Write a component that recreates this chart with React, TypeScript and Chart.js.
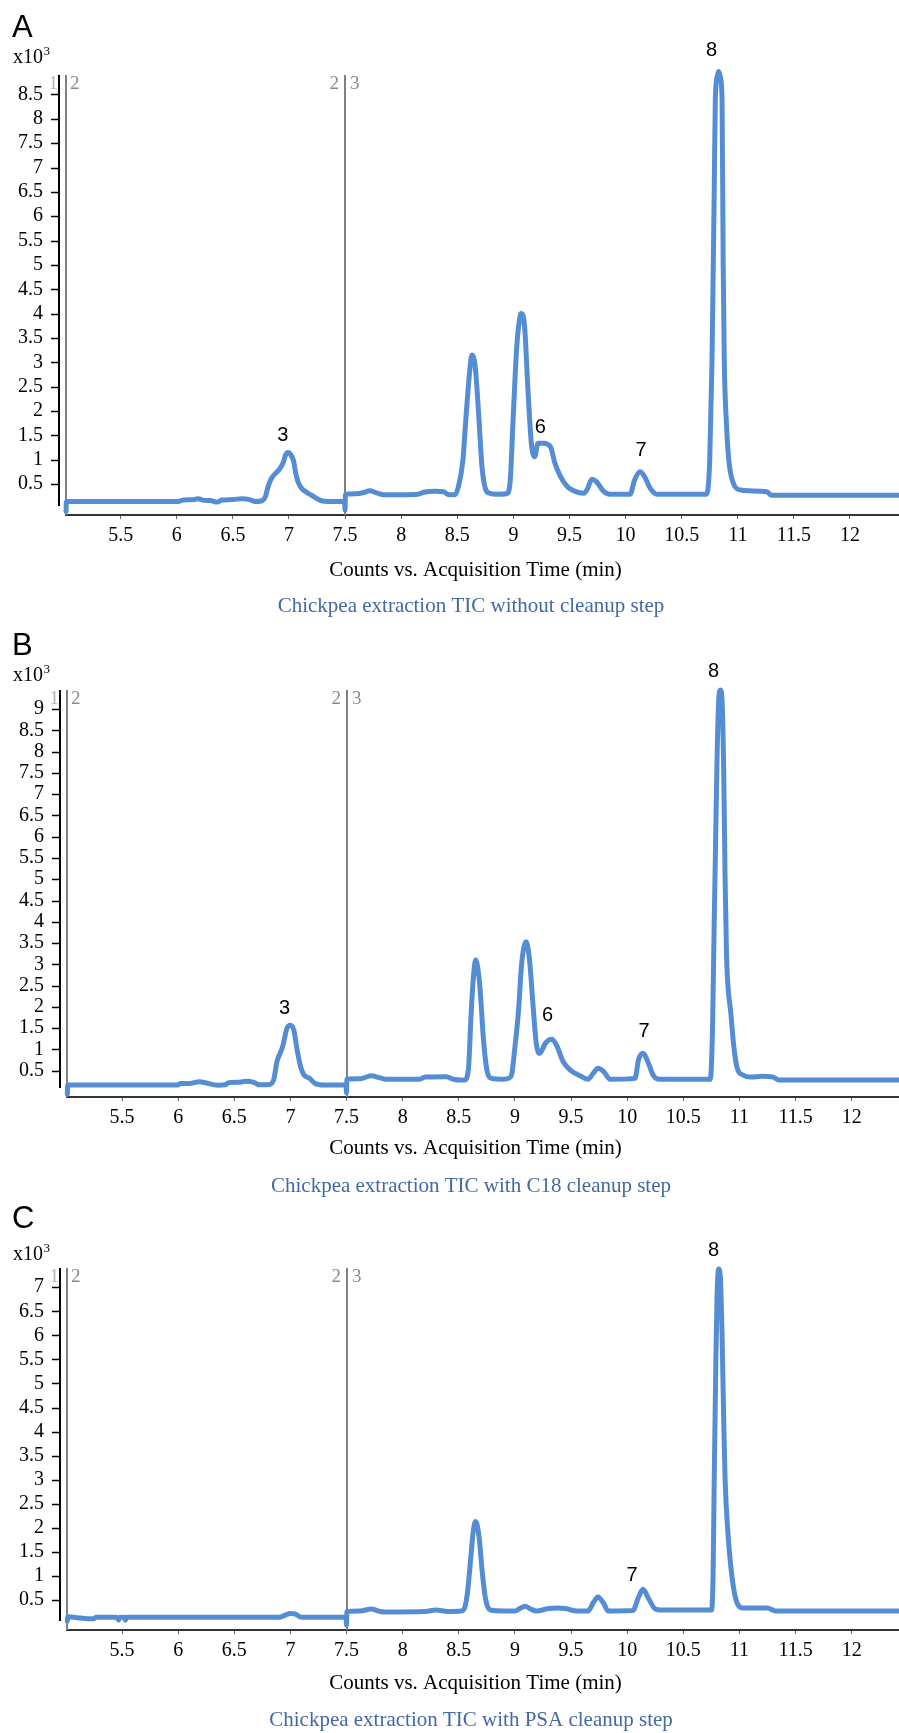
import React, { useEffect, useRef } from 'react';
import { Chart, registerables } from 'chart.js';

Chart.register(...registerables);

// ---------- data ----------
const xTicks = [5.5, 6, 6.5, 7, 7.5, 8, 8.5, 9, 9.5, 10, 10.5, 11, 11.5, 12];
const yTicksA = [0.5, 1, 1.5, 2, 2.5, 3, 3.5, 4, 4.5, 5, 5.5, 6, 6.5, 7, 7.5, 8, 8.5];
const yTicksB = [0.5, 1, 1.5, 2, 2.5, 3, 3.5, 4, 4.5, 5, 5.5, 6, 6.5, 7, 7.5, 8, 8.5, 9];
const yTicksC = [0.5, 1, 1.5, 2, 2.5, 3, 3.5, 4, 4.5, 5, 5.5, 6, 6.5, 7];

const segmentBreaks = [5.01, 7.5];

// Panel A: without cleanup (counts x10^3 vs time, min)
const timeA = [
  5.013, 5.016, 5.5, 6.0, 6.06, 6.15, 6.19, 6.23, 6.3, 6.36, 6.4, 6.5, 6.58, 6.65, 6.7, 6.76, 6.79, 6.81, 6.84,
  6.88, 6.92, 6.95, 6.97, 6.99, 7.01, 7.04, 7.06, 7.08, 7.11, 7.15, 7.2, 7.25, 7.3, 7.4, 7.495, 7.5,
  7.503, 7.6, 7.66, 7.72, 7.78, 7.85, 8.0, 8.15, 8.2, 8.3, 8.38, 8.42, 8.48, 8.51, 8.55, 8.58, 8.61, 8.63,
  8.66, 8.69, 8.72, 8.75, 8.79, 8.85, 8.94, 8.97, 9.0, 9.03, 9.06, 9.07, 9.1, 9.13, 9.16, 9.19, 9.22, 9.27,
  9.33, 9.37, 9.42, 9.48, 9.54, 9.63, 9.66, 9.7, 9.74, 9.8, 9.86, 10.04, 10.08, 10.13, 10.17, 10.22, 10.28,
  10.72, 10.75, 10.77, 10.78, 10.79, 10.8, 10.82, 10.83, 10.845, 10.86, 10.87, 10.88, 10.9, 10.92, 10.96,
  11.02, 11.1, 11.26, 11.3, 12.437,
];
const countsA = [
  -0.06, 0.14, 0.14, 0.14, 0.17, 0.18, 0.2, 0.17, 0.16, 0.13, 0.17, 0.18, 0.2, 0.18, 0.14, 0.16, 0.24, 0.42, 0.6,
  0.72, 0.82, 0.95, 1.1, 1.15, 1.12, 0.98, 0.72, 0.55, 0.42, 0.34, 0.27, 0.2, 0.15, 0.14, 0.14, -0.04,
  0.29, 0.3, 0.32, 0.36, 0.32, 0.28, 0.28, 0.29, 0.33, 0.35, 0.34, 0.28, 0.28, 0.45, 0.99, 1.95, 2.8, 3.15,
  2.91, 1.95, 0.86, 0.41, 0.31, 0.29, 0.3, 0.52, 1.95, 3.32, 3.95, 4.0, 3.73, 2.43, 1.34, 1.06, 1.34, 1.34,
  1.27, 0.93, 0.65, 0.45, 0.36, 0.31, 0.4, 0.6, 0.55, 0.36, 0.29, 0.29, 0.58, 0.75, 0.65, 0.41, 0.29,
  0.29, 0.99, 3.0, 4.7, 6.5, 8.4, 8.9, 8.97, 8.85, 8.39, 5.0, 3.0, 1.7, 0.99, 0.52,
  0.38, 0.36, 0.34, 0.27, 0.27,
];
const peakNamesA = ['3', '6', '7', '8'];
const peakTimesA = [6.946, 9.241, 10.137, 10.766];
const peakLabelCountsA = [1.49, 1.67, 1.18, 9.41];

// Panel B: C18 cleanup
const timeB = [
  5.013, 5.016, 6.0, 6.02, 6.1, 6.19, 6.25, 6.35, 6.42, 6.45, 6.55, 6.6, 6.68, 6.72, 6.8, 6.85, 6.88, 6.93,
  6.97, 7.0, 7.03, 7.06, 7.09, 7.12, 7.17, 7.22, 7.3, 7.495, 7.5,
  7.503, 7.62, 7.72, 7.8, 7.85, 8.15, 8.2, 8.39, 8.45, 8.55, 8.585, 8.61, 8.63, 8.65, 8.67, 8.69, 8.72, 8.75,
  8.79, 8.9, 8.95, 8.97, 9.0, 9.03, 9.06, 9.1, 9.13, 9.16, 9.19, 9.22, 9.27, 9.3, 9.33, 9.37, 9.43, 9.49,
  9.58, 9.65, 9.7, 9.74, 9.79, 9.85, 10.07, 10.1, 10.14, 10.19, 10.23, 10.28, 10.74, 10.76, 10.775, 10.785,
  10.8, 10.815, 10.83, 10.845, 10.86, 10.872, 10.885, 10.9, 10.92, 10.95, 10.98, 11.03, 11.1, 11.2, 11.3,
  11.35, 12.421,
];
const countsB = [
  -0.05, 0.165, 0.165, 0.2, 0.2, 0.24, 0.21, 0.16, 0.17, 0.22, 0.23, 0.25, 0.22, 0.17, 0.17, 0.28, 0.71, 1.06,
  1.5, 1.57, 1.46, 0.99, 0.6, 0.4, 0.32, 0.2, 0.165, 0.165, -0.02,
  0.3, 0.31, 0.38, 0.33, 0.3, 0.3, 0.35, 0.36, 0.3, 0.28, 0.52, 1.85, 2.7, 3.1, 2.9, 2.4, 1.22, 0.52,
  0.32, 0.3, 0.33, 0.4, 1.06, 1.85, 3.02, 3.53, 3.1, 2.08, 1.14, 0.91, 1.14, 1.22, 1.24, 1.1, 0.71, 0.52,
  0.38, 0.3, 0.45, 0.56, 0.48, 0.3, 0.32, 0.75, 0.91, 0.67, 0.4, 0.3, 0.3, 1.5, 4.0, 5.5,
  7.8, 9.2, 9.45, 9.2, 7.5, 5.0, 3.2, 2.4, 1.93, 1.06, 0.56, 0.4, 0.35, 0.37, 0.35,
  0.28, 0.28,
];
const peakNamesB = ['3', '6', '7', '8'];
const peakTimesB = [6.948, 9.29, 10.15, 10.77];
const peakLabelCountsB = [1.97, 1.79, 1.43, 9.88];

// Panel C: PSA cleanup
const timeC = [
  5.013, 5.016, 5.1, 5.2, 5.25, 5.27, 5.45, 5.47, 5.48, 5.52, 5.53, 5.54, 6.0, 6.9, 6.95, 7.0, 7.04, 7.1,
  7.495, 7.5,
  7.503, 7.62, 7.72, 7.8, 7.85, 8.2, 8.3, 8.4, 8.52, 8.555, 8.58, 8.61, 8.63, 8.65, 8.68, 8.71, 8.74, 8.78,
  8.9, 9.0, 9.05, 9.09, 9.14, 9.19, 9.3, 9.38, 9.45, 9.55, 9.65, 9.7, 9.74, 9.79, 9.83, 10.05, 10.1, 10.14,
  10.19, 10.25, 10.3, 10.75, 10.765, 10.775, 10.79, 10.8, 10.815, 10.83, 10.845, 10.86, 10.872, 10.9, 10.92,
  10.95, 10.98, 11.03, 11.15, 11.25, 11.32, 12.421,
];
const countsC = [
  0.06, 0.15, 0.13, 0.11, 0.11, 0.14, 0.14, 0.08, 0.14, 0.14, 0.08, 0.14, 0.14, 0.14, 0.18, 0.22, 0.21, 0.14,
  0.14, -0.02,
  0.26, 0.27, 0.31, 0.26, 0.25, 0.26, 0.29, 0.26, 0.27, 0.36, 0.71, 1.47, 1.95, 2.13, 1.82, 1.05, 0.5, 0.29,
  0.27, 0.27, 0.33, 0.37, 0.31, 0.27, 0.32, 0.33, 0.32, 0.27, 0.27, 0.45, 0.56, 0.43, 0.27, 0.28, 0.55, 0.72,
  0.53, 0.31, 0.29, 0.29, 1.0, 3.0, 5.5, 6.8, 7.38, 7.2, 6.0, 4.2, 3.0, 1.8, 1.26,
  0.71, 0.43, 0.33, 0.33, 0.33, 0.27, 0.27,
];
const peakNamesC = ['7', '8'];
const peakTimesC = [10.043, 10.77];
const peakLabelCountsC = [1.0, 7.755];

// ---------- layout / style ----------
const SERIF = "'Liberation Serif', 'Times New Roman', serif";
const SANS = "'Liberation Sans', Arial, sans-serif";
const TRACE = '#548DD4';
const CAPTION_COLOR = '#4269a4';

type PanelCfg = {
  top: number; height: number; chartTop: number; chartBottom: number; chartLeft: number; yAxisX: number;
  xMin: number; xMax: number; yMin: number; yMax: number; yTicks: number[];
  times: number[]; counts: number[]; peakNames: string[]; peakTimes: number[]; peakCounts: number[];
  letter: string; letterBaseline: number; x10Baseline: number; titleY: number; captionY: number; caption: string;
};

const panels: PanelCfg[] = [
  {
    top: 0, height: 625, chartTop: 75, chartBottom: 515, chartLeft: 66, yAxisX: 59,
    xMin: 5.0125, xMax: 12.437, yMin: -0.136, yMax: 8.9, yTicks: yTicksA,
    times: timeA, counts: countsA, peakNames: peakNamesA, peakTimes: peakTimesA, peakCounts: peakLabelCountsA,
    letter: 'A', letterBaseline: 36.5, x10Baseline: 63.3, titleY: 570, captionY: 606.5,
    caption: 'Chickpea extraction TIC without cleanup step',
  },
  {
    top: 625, height: 575, chartTop: 690, chartBottom: 1097, chartLeft: 67, yAxisX: 60,
    xMin: 5.01, xMax: 12.421, yMin: -0.118, yMax: 9.448, yTicks: yTicksB,
    times: timeB, counts: countsB, peakNames: peakNamesB, peakTimes: peakTimesB, peakCounts: peakLabelCountsB,
    letter: 'B', letterBaseline: 655, x10Baseline: 680.7, titleY: 1148, captionY: 1186,
    caption: 'Chickpea extraction TIC with C18 cleanup step',
  },
  {
    top: 1200, height: 533, chartTop: 1268, chartBottom: 1630, chartLeft: 67, yAxisX: 60,
    xMin: 5.01, xMax: 12.421, yMin: -0.125, yMax: 7.40, yTicks: yTicksC,
    times: timeC, counts: countsC, peakNames: peakNamesC, peakTimes: peakTimesC, peakCounts: peakLabelCountsC,
    letter: 'C', letterBaseline: 1228, x10Baseline: 1260, titleY: 1683, captionY: 1720,
    caption: 'Chickpea extraction TIC with PSA cleanup step',
  },
];

function makeDecor(p: PanelCfg) {
  const T = p.top;
  return {
    id: 'decor' + p.letter,
    beforeDatasetsDraw(chart: any) {
      const { ctx, chartArea, scales } = chart;
      ctx.save();
      ctx.strokeStyle = '#808080';
      ctx.lineWidth = 2;
      segmentBreaks.forEach((b, i) => {
        const px = i === 0 ? chartArea.left : Math.round(scales.x.getPixelForValue(b));
        ctx.beginPath();
        ctx.moveTo(px, chartArea.top);
        ctx.lineTo(px, chartArea.bottom);
        ctx.stroke();
      });
      ctx.restore();
    },
    afterDraw(chart: any) {
      const { ctx, chartArea, scales } = chart;
      const xs = scales.x, ys = scales.y;
      ctx.save();
      // y axis line + ticks
      ctx.strokeStyle = '#000';
      ctx.lineWidth = 2;
      ctx.beginPath();
      ctx.moveTo(p.yAxisX, chartArea.top);
      ctx.lineTo(p.yAxisX, chartArea.bottom - 9);
      ctx.stroke();
      ctx.lineWidth = 1.5;
      p.yTicks.forEach((v) => {
        const py = Math.round(ys.getPixelForValue(v)) + 0.5;
        ctx.beginPath();
        ctx.moveTo(p.yAxisX - 8, py);
        ctx.lineTo(p.yAxisX, py);
        ctx.stroke();
      });
      // segment labels
      const segY = chartArea.top + 13.5;
      const l0 = chartArea.left;
      const l1 = Math.round(xs.getPixelForValue(segmentBreaks[1]));
      ctx.font = `19px ${SERIF}`;
      ctx.textBaseline = 'alphabetic';
      ctx.fillStyle = '#b5b5b5';
      ctx.textAlign = 'right';
      ctx.fillText('1', l0 - 8, segY);
      ctx.fillStyle = '#8a8a8a';
      ctx.textAlign = 'left';
      ctx.fillText('2', l0 + 4, segY);
      ctx.textAlign = 'right';
      ctx.fillText('2', l1 - 6, segY);
      ctx.textAlign = 'left';
      ctx.fillText('3', l1 + 5, segY);
      // panel letter
      ctx.fillStyle = '#000';
      ctx.font = `31px ${SANS}`;
      ctx.textAlign = 'left';
      ctx.fillText(p.letter, 12, p.letterBaseline - T);
      // x10^3
      ctx.font = `20px ${SERIF}`;
      ctx.fillText('x10', 13, p.x10Baseline - T);
      const w = ctx.measureText('x10').width;
      ctx.font = `13px ${SERIF}`;
      ctx.fillText('3', 13 + w + 0.5, p.x10Baseline - T - 8);
      // peak labels
      ctx.font = `20px ${SANS}`;
      ctx.textAlign = 'center';
      ctx.textBaseline = 'middle';
      p.peakNames.forEach((n, i) => {
        ctx.fillText(n, xs.getPixelForValue(p.peakTimes[i]), ys.getPixelForValue(p.peakCounts[i]));
      });
      // axis title
      ctx.font = `21px ${SERIF}`;
      ctx.fillStyle = '#000';
      ctx.fillText('Counts vs. Acquisition Time (min)', 475.5, p.titleY - T);
      // caption
      ctx.fillStyle = CAPTION_COLOR;
      ctx.fillText(p.caption, 471, p.captionY - T);
      ctx.restore();
    },
  };
}

function Panel({ p }: { p: PanelCfg }) {
  const ref = useRef<HTMLCanvasElement | null>(null);
  useEffect(() => {
    if (!ref.current) return;
    const pts = p.times.map((t, i) => ({ x: t, y: p.counts[i] }));
    const chart = new Chart(ref.current, {
      type: 'line',
      data: {
        datasets: [
          {
            data: pts,
            borderColor: TRACE,
            borderWidth: 5,
            pointRadius: 0,
            cubicInterpolationMode: 'monotone',
            fill: false,
            clip: false as any,
            borderJoinStyle: 'round',
            borderCapStyle: 'round',
          },
        ],
      },
      options: {
        responsive: false,
        animation: false,
        events: [],
        layout: { padding: { top: p.chartTop - p.top, left: 0, right: 0, bottom: 0 } },
        plugins: { legend: { display: false }, tooltip: { enabled: false }, title: { display: false } },
        scales: {
          x: {
            type: 'linear',
            min: p.xMin,
            max: p.xMax,
            bounds: 'data',
            afterFit: (s: any) => { s.height = p.height - (p.chartBottom - p.top); },
            afterBuildTicks: (ax: any) => { ax.ticks = xTicks.map((v) => ({ value: v })); },
            grid: { display: true, drawOnChartArea: false, drawTicks: true, tickLength: 4, color: '#666', lineWidth: 1 },
            border: { display: true, color: '#333', width: 2 },
            ticks: {
              autoSkip: false,
              maxRotation: 0,
              padding: 5,
              color: '#000',
              font: { family: SERIF, size: 20 },
              callback: (v: any) => String(v),
            },
          },
          y: {
            type: 'linear',
            min: p.yMin,
            max: p.yMax,
            bounds: 'data',
            afterFit: (s: any) => { s.width = p.chartLeft; },
            afterBuildTicks: (ax: any) => { ax.ticks = p.yTicks.map((v) => ({ value: v })); },
            grid: { display: true, drawOnChartArea: false, drawTicks: true, tickLength: 15, color: 'rgba(0,0,0,0)' },
            border: { display: false },
            ticks: {
              autoSkip: false,
              padding: 8,
              color: '#000',
              font: { family: SERIF, size: 20 },
              callback: (v: any) => String(v),
            },
          },
        },
      },
      plugins: [makeDecor(p)],
    } as any);
    return () => chart.destroy();
  }, [p]);
  return (
    <canvas
      ref={ref}
      width={899}
      height={p.height}
      style={{ position: 'absolute', left: 0, top: p.top, width: 899, height: p.height, display: 'block' }}
    />
  );
}

export default function App() {
  return (
    <div style={{ position: 'absolute', left: 0, top: 0, width: 899, height: 1733, background: '#fff' }}>
      {panels.map((p) => (
        <Panel key={p.letter} p={p} />
      ))}
    </div>
  );
}
